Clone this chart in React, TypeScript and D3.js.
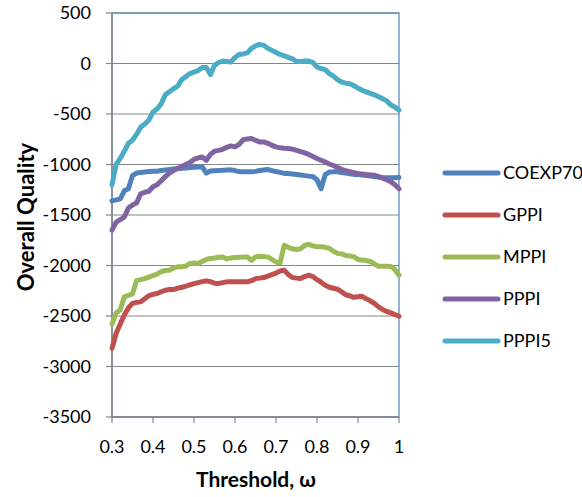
import React from "react";
import * as d3 from "d3";

const thresholds = d3.range(0, 71).map((i) => +(0.3 + i * 0.01).toFixed(2));

const seriesNames = ["COEXP70", "GPPI", "MPPI", "PPPI", "PPPI5"];
const seriesColors = ["#4F81BD", "#C0504D", "#9BBB59", "#8064A2", "#4BACC6"];

const coexp70 = [
  -1360, -1350, -1340, -1260, -1240, -1110, -1085, -1080, -1075, -1070,
  -1068, -1066, -1060, -1055, -1050, -1045, -1040, -1038, -1035, -1030,
  -1028, -1025, -1023, -1085, -1065, -1062, -1060, -1058, -1055, -1053,
  -1060, -1070, -1073, -1073, -1073, -1068, -1060, -1055, -1050, -1060,
  -1070, -1078, -1088, -1090, -1095, -1100, -1105, -1110, -1115, -1120,
  -1150, -1240, -1100, -1075, -1073, -1073, -1080, -1085, -1092, -1098,
  -1100, -1105, -1110, -1113, -1118, -1123, -1128, -1132, -1132, -1130,
  -1129,
];

const gppi = [
  -2820, -2673, -2580, -2490, -2420, -2375, -2365, -2360, -2330, -2298,
  -2285, -2278, -2260, -2245, -2238, -2238, -2225, -2215, -2205, -2192,
  -2180, -2170, -2160, -2152, -2160, -2175, -2178, -2170, -2162, -2162,
  -2160, -2160, -2162, -2162, -2150, -2130, -2125, -2119, -2105, -2090,
  -2075, -2055, -2046, -2090, -2119, -2125, -2129, -2110, -2096, -2110,
  -2140, -2165, -2195, -2215, -2225, -2235, -2260, -2290, -2300, -2315,
  -2310, -2305, -2330, -2350, -2375, -2410, -2435, -2455, -2470, -2485,
  -2502,
];

const mppi = [
  -2580, -2470, -2440, -2310, -2295, -2280, -2150, -2140, -2130, -2115,
  -2100, -2085, -2060, -2050, -2046, -2025, -2013, -2013, -2005, -1980,
  -1975, -1980, -1960, -1940, -1930, -1925, -1918, -1915, -1935, -1925,
  -1921, -1918, -1917, -1915, -1950, -1915, -1908, -1912, -1915, -1940,
  -1965, -1975, -1800, -1820, -1835, -1842, -1835, -1800, -1790, -1805,
  -1815, -1815, -1820, -1830, -1860, -1880, -1885, -1900, -1905, -1915,
  -1940, -1945, -1950, -1960, -1985, -2007, -2007, -2007, -2010, -2040,
  -2096,
];

const pppi = [
  -1650, -1570, -1545, -1520, -1430, -1400, -1380, -1290, -1275, -1265,
  -1220, -1200, -1160, -1120, -1085, -1060, -1040, -1020, -1000, -980,
  -950, -935, -925, -960, -900, -868, -860, -850, -830, -816,
  -826, -800, -755, -748, -743, -760, -776, -776, -790, -810,
  -826, -835, -840, -842, -848, -860, -872, -885, -900, -920,
  -940, -958, -975, -995, -1010, -1030, -1048, -1060, -1070, -1080,
  -1088, -1095, -1100, -1103, -1106, -1120, -1135, -1150, -1170, -1200,
  -1240,
];

const pppi5 = [
  -1200, -1000, -940, -870, -790, -760, -700, -630, -600, -560,
  -480, -450, -400, -310, -280, -250, -225, -160, -130, -100,
  -85, -70, -40, -40, -110, -20, 10, 25, 20, 15,
  60, 90, 95, 105, 150, 175, 190, 180, 150, 130,
  110, 90, 75, 60, 45, 20, 20, 25, 25, 10,
  -35, -50, -60, -100, -125, -160, -185, -195, -200, -220,
  -245, -265, -280, -295, -310, -330, -350, -370, -410, -430,
  -462,
];

const seriesValues = [coexp70, gppi, mppi, pppi, pppi5];

const yTicks = [500, 0, -500, -1000, -1500, -2000, -2500, -3000, -3500];
const xTicks = [0.3, 0.4, 0.5, 0.6, 0.7, 0.8, 0.9, 1];

const W = 582;
const H = 497;
const left = 112;
const right = 399;
const top = 13;
const bottom = 417;
const FONT = "Lato, 'Open Sans', sans-serif";

export default function App() {
  const x = d3.scaleLinear().domain([0.3, 1]).range([left, right]);
  const y = d3.scaleLinear().domain([-3500, 500]).range([bottom, top]);
  const line = d3
    .line<number>()
    .x((_, i) => x(thresholds[i]))
    .y((d) => y(d));

  const gridColor = "#868686";

  return (
    <svg
      width={W}
      height={H}
      style={{ position: "absolute", left: 0, top: 0, background: "#fff" }}
      fontFamily={FONT}
    >
      <rect x={0} y={0} width={W} height={H} fill="#fff" />
      {yTicks.map((t) => (
        <line
          key={"g" + t}
          x1={left}
          x2={right}
          y1={y(t)}
          y2={y(t)}
          stroke={gridColor}
          strokeWidth={1.2}
        />
      ))}
      <rect
        x={left}
        y={top}
        width={right - left}
        height={bottom - top}
        fill="none"
        stroke="#4F81BD"
        strokeWidth={1.2}
      />
      <line x1={left} x2={left} y1={top} y2={bottom} stroke={gridColor} strokeWidth={1.5} />
      <line x1={left} x2={right} y1={bottom} y2={bottom} stroke={gridColor} strokeWidth={1.5} />
      {yTicks.map((t) => (
        <g key={"yt" + t}>
          <line x1={left - 6} x2={left} y1={y(t)} y2={y(t)} stroke={gridColor} strokeWidth={1.2} />
          <text x={left - 21} y={y(t)} dy="0.35em" textAnchor="end" fontSize={18} fill="#000">
            {t}
          </text>
        </g>
      ))}
      {xTicks.map((t) => (
        <g key={"xt" + t}>
          <line x1={x(t)} x2={x(t)} y1={bottom} y2={bottom + 6} stroke={gridColor} strokeWidth={1.2} />
          <text x={x(t)} y={bottom + 30} dy="0.35em" textAnchor="middle" fontSize={18} fill="#000">
            {t}
          </text>
        </g>
      ))}
      {seriesValues.map((vals, i) => (
        <path
          key={seriesNames[i]}
          d={line(vals) || ""}
          fill="none"
          stroke={seriesColors[i]}
          strokeWidth={5}
          strokeLinejoin="round"
          strokeLinecap="round"
        />
      ))}
      <text
        transform={`translate(26,217) rotate(-90)`}
        textAnchor="middle"
        dy="0.35em"
        fontSize={22}
        fontWeight="bold"
        fill="#000"
      >
        Overall Quality
      </text>
      <text x={256} y={480} dy="0.35em" textAnchor="middle" fontSize={21} fontWeight="bold" fill="#000">
        Threshold, ω
      </text>
      {seriesNames.map((name, i) => {
        const ly = 173 + i * 42;
        return (
          <g key={"lg" + name}>
            <line x1={445} x2={498} y1={ly} y2={ly} stroke={seriesColors[i]} strokeWidth={5} strokeLinecap="round" />
            <text x={503} y={ly} dy="0.35em" fontSize={18} fill="#000">
              {name}
            </text>
          </g>
        );
      })}
    </svg>
  );
}
